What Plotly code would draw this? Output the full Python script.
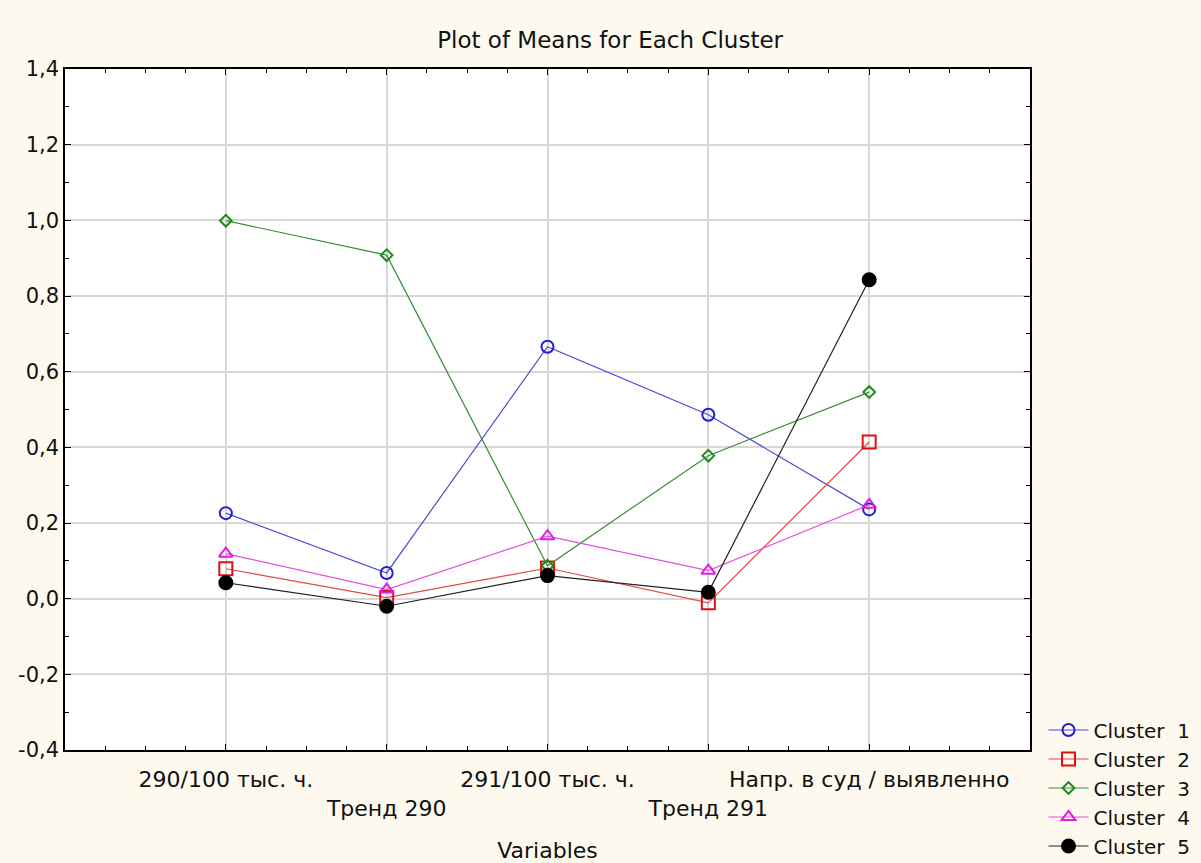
import plotly.graph_objects as go

variables = ["290/100 тыс. ч.", "Тренд 290", "291/100 тыс. ч.", "Тренд 291", "Напр. в суд / выявленно"]
cluster_names = ["Cluster  1", "Cluster  2", "Cluster  3", "Cluster  4", "Cluster  5"]
cluster1 = [0.226, 0.068, 0.666, 0.486, 0.236]
cluster2 = [0.079, 0.003, 0.081, -0.011, 0.414]
cluster3 = [0.999, 0.908, 0.087, 0.378, 0.546]
cluster4 = [0.119, 0.024, 0.165, 0.074, 0.248]
cluster5 = [0.042, -0.020, 0.061, 0.017, 0.843]
y_ticks = [-0.4, -0.2, 0.0, 0.2, 0.4, 0.6, 0.8, 1.0, 1.2, 1.4]
y_ticklabels = ["-0,4", "-0,2", "0,0", "0,2", "0,4", "0,6", "0,8", "1,0", "1,2", "1,4"]

series = [cluster1, cluster2, cluster3, cluster4, cluster5]
colors = ["#1f1fd0", "#e01010", "#1a8a1a", "#e020e0", "#000000"]
line_colors = ["#4a4ad8", "#e04848", "#3a8f3a", "#e050e0", "#202020"]
symbols = ["circle-open", "square-open", "diamond-open", "triangle-up-open", "circle"]
sizes = [12, 13, 9, 12, 13]

x_idx = list(range(len(variables)))
ticktext = [v if i % 2 == 0 else "<br>" + v for i, v in enumerate(variables)]

fig = go.Figure()
for name, vals, c, lc, s, sz in zip(cluster_names, series, colors, line_colors, symbols, sizes):
    fig.add_trace(go.Scatter(
        x=x_idx, y=vals, name=name, mode="lines+markers",
        line=dict(color=lc, width=1.2),
        marker=dict(symbol=s, size=sz, color=c, line=dict(color=c, width=2)),
    ))

font_main = "DejaVu Sans, Verdana, sans-serif"
txt = "#111111"

fig.update_layout(
    width=1201, height=863,
    paper_bgcolor="#fdf9ee",
    plot_bgcolor="#ffffff",
    margin=dict(l=65, r=171, t=69, b=113, autoexpand=False),
    title=dict(text="Plot of Means for Each Cluster", x=0.508, xanchor="center",
               y=0.954, yanchor="middle", font=dict(family=font_main, size=23, color=txt)),
    showlegend=True,
    legend=dict(x=1.014, xanchor="left", y=0.058, yanchor="top",
                font=dict(family=font_main, size=20, color=txt),
                bgcolor="rgba(0,0,0,0)", tracegroupgap=0, itemwidth=40),
    xaxis=dict(
        range=[-1, 5], tickmode="array", tickvals=x_idx, ticktext=ticktext, tickangle=0,
        automargin=False, ticklabelstandoff=9,
        showgrid=True, gridcolor="#d8d8d8", gridwidth=1.5,
        showline=True, linecolor="#000000", linewidth=1.5, mirror="ticks",
        ticks="inside", ticklen=6, tickcolor="#000000",
        minor=dict(dtick=0.25, tick0=0, ticks="inside", ticklen=4, tickcolor="#000000", showgrid=False),
        tickfont=dict(family=font_main, size=22, color=txt),
        title=dict(text="Variables", font=dict(family=font_main, size=22, color=txt), standoff=23),
        zeroline=False,
    ),
    yaxis=dict(
        range=[-0.4, 1.4], tickmode="array", tickvals=y_ticks, ticktext=y_ticklabels,
        automargin=False,
        showgrid=True, gridcolor="#d8d8d8", gridwidth=1.5,
        showline=True, linecolor="#000000", linewidth=1.5, mirror="ticks",
        ticks="inside", ticklen=6, tickcolor="#000000",
        minor=dict(dtick=0.1, tick0=0, ticks="inside", ticklen=4, tickcolor="#000000", showgrid=False),
        tickfont=dict(family=font_main, size=21, color=txt),
        zeroline=False,
    ),
)

fig.write_html(
    "out.html",
    config={"displayModeBar": False},
    post_script="document.body.style.margin='0';document.body.style.background='#fdf9ee';",
)
